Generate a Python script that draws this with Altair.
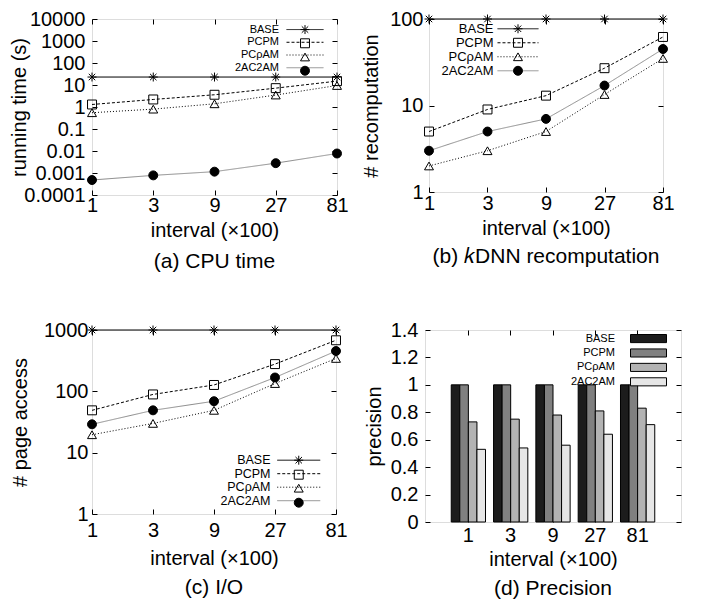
import altair as alt
import pandas as pd

# ---------------- data ----------------
intervals = [1, 3, 9, 27, 81]
series = ["BASE", "PCPM", "PCρAM", "2AC2AM"]

cpu_base = [23, 23, 23, 23, 23]
cpu_pcpm = [1.3, 2.2, 3.6, 7.2, 15]
cpu_pcram = [0.55, 0.8, 1.4, 3.5, 9.5]
cpu_2ac = [0.00048, 0.00078, 0.00115, 0.0028, 0.0077]

rec_base = [100, 100, 100, 100, 100]
rec_pcpm = [5, 9, 13, 27, 62]
rec_pcram = [2, 3, 5, 13.4, 35]
rec_2ac = [3, 5, 7, 17, 45]

io_base = [1000, 1000, 1000, 1000, 1000]
io_pcpm = [49, 89, 127, 278, 680]
io_pcram = [19.6, 30, 49, 134, 344]
io_2ac = [29, 49, 69, 168, 454]

prec_base = [1, 1, 1, 1, 1]
prec_pcpm = [1, 1, 1, 1, 1]
prec_pcram = [0.73, 0.75, 0.78, 0.81, 0.83]
prec_2ac = [0.53, 0.54, 0.56, 0.64, 0.71]

cpu_ticks = [0.0001, 0.001, 0.01, 0.1, 1, 10, 100, 1000, 10000]
rec_ticks = [1, 10, 100]
io_ticks = [1, 10, 100, 1000]
prec_ticks = [0, 0.2, 0.4, 0.6, 0.8, 1, 1.2, 1.4]

# ---------------- styles ----------------
FONT = "Liberation Sans"
TICK = 5
line_colors = ["black", "black", "black", "#8c8c8c"]
line_dashes = [[1, 0], [3, 2], [1, 2], [1, 0]]
ASTERISK = "M-1,0H1M0,-1V1M-0.72,-0.72L0.72,0.72M-0.72,0.72L0.72,-0.72"
point_shapes = [ASTERISK, "square", "triangle-up", "circle"]
point_fills = ["transparent", "transparent", "transparent", "black"]
point_strokes = ["black", "black", "black", "black"]
bar_colors = ["#1c1c1c", "#808080", "#b3b3b3", "#e6e6e6"]
BAR_SYMBOL = "M-4,-0.9H4V0.9H-4Z"      # 36 x 8 px at symbolSize 81
series_pts = [s + " pt" for s in series]   # separate domain -> separate legend
SYM_W = 10                             # legend symbol column width

INDEP = dict(color="independent", fill="independent", shape="independent",
             strokeDash="independent", stroke="independent")


def ex(v):
    return alt.ExprRef(expr=str(round(v, 2)))


def long_frame(cols):
    rows = []
    for s, sp, vals in zip(series, series_pts, cols):
        for i, v in zip(intervals, vals):
            rows.append({"interval": i, "label": str(i), "series": s,
                         "series_p": sp, "value": v})
    return pd.DataFrame(rows)


def x_axis_main(h, label_dy, title_dy, band=False):
    kw = dict(orient="bottom", offset=-TICK, tickSize=TICK, domain=False,
              grid=False, labelPadding=label_dy, labelFont=FONT,
              labelFontSize=20, labelColor="black", labelFlush=False,
              labelOverlap=False, title="interval (×100)", titleFont=FONT,
              titleFontSize=20, titleFontWeight="normal", titleColor="black",
              titleBaseline="middle", titleY=title_dy + TICK, tickColor="black",
              labelAngle=0)
    if not band:
        kw["values"] = intervals
        kw["format"] = "d"
    return alt.Axis(**kw)


def y_axis_main(h, ticks, label_pad, title, title_dx, fmt="~g"):
    return alt.Axis(orient="left", offset=-TICK, tickSize=TICK, domain=False,
                    grid=False, values=ticks, format=fmt, labelPadding=label_pad,
                    labelFont=FONT, labelFontSize=20, labelColor="black",
                    labelFlush=False, labelOverlap=False, title=title,
                    titleFont=FONT, titleFontSize=20, titleFontWeight="normal",
                    titleColor="black", titleAngle=270, titleBaseline="middle",
                    titleAlign="center", titleX=title_dx - TICK, titleY=h / 2,
                    tickColor="black")


def mirror_axis(orient, ticks=None):
    kw = dict(orient=orient, offset=-TICK, tickSize=TICK, domain=False,
              grid=False, labels=False, title=None, tickColor="black")
    if ticks is not None:
        kw["values"] = ticks
    return alt.Axis(**kw)


def caption(text, offset):
    return alt.TitleParams(text=text, orient="bottom", font=FONT, fontSize=21,
                           fontWeight="normal", color="black", offset=offset,
                           baseline="top", anchor="middle")


def legend_common(leg):
    fs = leg["font"]
    eh = 1.08 * fs
    lx = leg["cx"] - SYM_W / 2
    return lx, dict(orient="none", legendX=lx, legendY=leg["y"] - eh / 2,
                    title=None, labelFont=FONT, labelFontSize=fs,
                    rowPadding=max(0.0, round(leg["row"] - eh, 2)), padding=0,
                    symbolStrokeWidth=1, labelAlign="right",
                    labelOffset=ex(leg["lab_r"] - lx - SYM_W))


def line_panel(cols, ydom, yticks, ytitle, cap, w, h, lab_pad, title_dx,
               xlab_dy, xtitle_dy, cap_off, leg):
    df = long_frame(cols)
    xs = alt.Scale(type="log", base=3, domain=[1, 81])
    ys = alt.Scale(type="log", domain=ydom)
    k = leg["line_w"] / 9.0
    lx, common = legend_common(leg)
    legL = alt.Legend(symbolType=f"M-{k:.3f},0H{k:.3f}", symbolSize=81,
                      labelColor="black", **common)
    legP = alt.Legend(symbolSize=80, labelColor="black", labelExpr="''",
                      **common)
    lines = alt.Chart(df).mark_line(strokeWidth=1).encode(
        x=alt.X("interval:Q", scale=xs, axis=x_axis_main(h, xlab_dy, xtitle_dy)),
        y=alt.Y("value:Q", scale=ys,
                axis=y_axis_main(h, yticks, lab_pad, ytitle, title_dx)),
        color=alt.Color("series:N", sort=series,
                        scale=alt.Scale(domain=series, range=line_colors),
                        legend=legL),
        strokeDash=alt.StrokeDash("series:N", sort=series,
                                  scale=alt.Scale(domain=series, range=line_dashes),
                                  legend=legL),
    )
    pts = alt.Chart(df).mark_point(size=80, strokeWidth=1, filled=True,
                                   opacity=1).encode(
        x=alt.X("interval:Q", scale=xs, axis=mirror_axis("top", intervals)),
        y=alt.Y("value:Q", scale=ys, axis=mirror_axis("right", yticks)),
        shape=alt.Shape("series_p:N", sort=series_pts,
                        scale=alt.Scale(domain=series_pts, range=point_shapes),
                        legend=legP),
        fill=alt.Fill("series_p:N", sort=series_pts,
                      scale=alt.Scale(domain=series_pts, range=point_fills),
                      legend=legP),
        stroke=alt.Stroke("series_p:N", sort=series_pts,
                          scale=alt.Scale(domain=series_pts, range=point_strokes),
                          legend=legP),
    )
    return alt.layer(lines, pts).resolve_axis(x="independent", y="independent") \
        .properties(width=w, height=h, title=caption(cap, cap_off))


def bar_panel(cols, cap, w, h, lab_pad, title_dx, xlab_dy, xtitle_dy, cap_off, leg):
    df = long_frame(cols)
    order = [str(i) for i in intervals]
    xs = alt.Scale(domain=order, paddingInner=0.19, paddingOuter=0.62)
    ys = alt.Scale(domain=[0, 1.4], nice=False, zero=True)
    lx, common = legend_common(leg)
    legB = alt.Legend(symbolType=BAR_SYMBOL, symbolSize=81,
                      symbolStrokeColor="black", labelColor="black", **common)
    bars = alt.Chart(df).mark_bar(stroke="black", strokeWidth=1).encode(
        x=alt.X("label:N", sort=order, scale=xs,
                axis=x_axis_main(h, xlab_dy, xtitle_dy, band=True)),
        xOffset=alt.XOffset("series:N", sort=series,
                            scale=alt.Scale(domain=series, paddingInner=0,
                                            paddingOuter=0)),
        y=alt.Y("value:Q", scale=ys,
                axis=y_axis_main(h, prec_ticks, lab_pad, "precision", title_dx)),
        fill=alt.Fill("series:N", sort=series,
                      scale=alt.Scale(domain=series, range=bar_colors),
                      legend=legB),
    )
    ghost = alt.Chart(df).mark_bar(opacity=0).encode(
        x=alt.X("label:N", sort=order, scale=xs, axis=mirror_axis("top")),
        xOffset=alt.XOffset("series:N", sort=series),
        y=alt.Y("value:Q", scale=ys, axis=mirror_axis("right", prec_ticks)),
    )
    return alt.layer(bars, ghost).resolve_axis(x="independent", y="independent") \
        .properties(width=w, height=h, title=caption(cap, cap_off))


pa = line_panel([cpu_base, cpu_pcpm, cpu_pcram, cpu_2ac], [0.0001, 10000],
                cpu_ticks, "running time (s)", "(a) CPU time", 245, 176,
                7, -73, 0, 35, 11,
                dict(cx=212.5, lab_r=186, y=11, font=11, line_w=37, row=12.6))
pb = line_panel([rec_base, rec_pcpm, rec_pcram, rec_2ac], [1, 100],
                rec_ticks, "# recomputation", "(b) 𝑘DNN recomputation", 234, 173,
                6, -57.5, 1, 36, 8,
                dict(cx=87.5, lab_r=61.5, y=10.3, font=13, line_w=41, row=14))
pc = line_panel([io_base, io_pcpm, io_pcram, io_2ac], [1, 1000],
                io_ticks, "# page access", "(c) I/O", 244, 184,
                4, -72, 6, 44, 9,
                dict(cx=205.5, lab_r=176, y=130.7, font=12.5, line_w=43, row=14))
pd_ = bar_panel([prec_base, prec_pcpm, prec_pcram, prec_2ac], "(d) Precision",
                256, 192, 7, -50.5, 3, 37, 9,
                dict(cx=223, lab_r=189, y=9, font=11, row=13.3))

top = alt.hconcat(pa, pb, spacing=12).resolve_scale(**INDEP)
bottom = alt.hconcat(pc, pd_, spacing=16).resolve_scale(**INDEP)
chart = alt.vconcat(top, bottom, spacing=46).resolve_scale(**INDEP).properties(
    padding={"left": 0, "top": 0, "right": 0, "bottom": 0}
).configure_view(stroke="black", strokeWidth=1).configure(
    font=FONT, background="white"
)

chart.save("out.html", embed_options={"renderer": "svg", "actions": False})
